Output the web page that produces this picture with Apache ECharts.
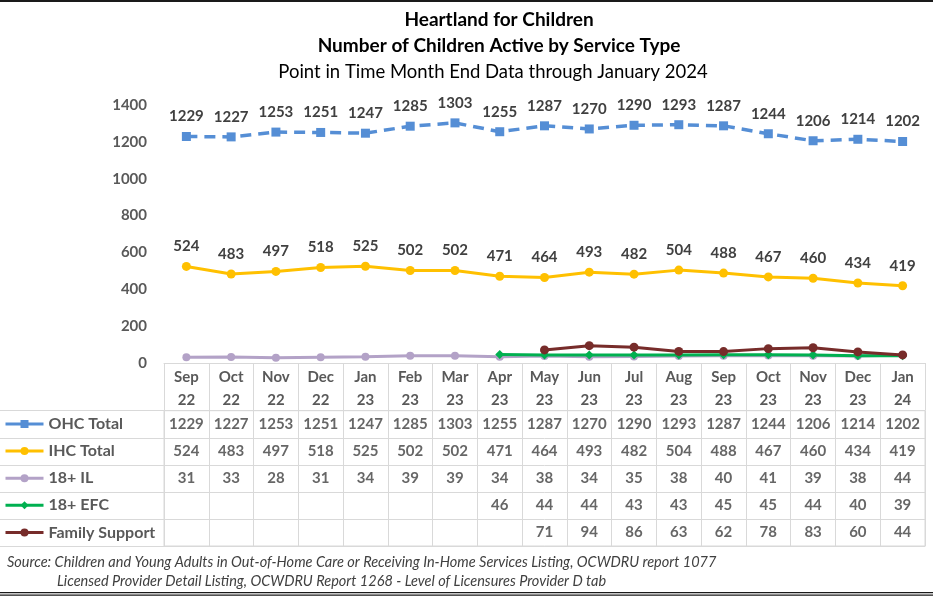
<!DOCTYPE html>
<html><head><meta charset="utf-8">
<script src="https://cdn.jsdelivr.net/npm/echarts@6/dist/echarts.min.js"></script>
<style>html,body{margin:0;padding:0;background:#fff}#c{width:933px;height:599px}</style>
</head><body><div id="c"></div>
<script>
const categories = ['Sep 22','Oct 22','Nov 22','Dec 22','Jan 23','Feb 23','Mar 23','Apr 23','May 23','Jun 23','Jul 23','Aug 23','Sep 23','Oct 23','Nov 23','Dec 23','Jan 24'];
const seriesNames = ['OHC Total','IHC Total','18+ IL','18+ EFC','Family Support'];
const ohcTotal = [1229,1227,1253,1251,1247,1285,1303,1255,1287,1270,1290,1293,1287,1244,1206,1214,1202];
const ihcTotal = [524,483,497,518,525,502,502,471,464,493,482,504,488,467,460,434,419];
const il18 = [31,33,28,31,34,39,39,34,38,34,35,38,40,41,39,38,44];
const efc18 = [null,null,null,null,null,null,null,46,44,44,43,43,45,45,44,40,39];
const familySupport = [null,null,null,null,null,null,null,null,71,94,86,63,62,78,83,60,44];
const yTicks = {min:0, max:1400, interval:200};
const titleLines = ['Heartland for Children','Number of Children Active by Service Type','Point in Time Month End Data through January 2024'];
const sourceLines = ['Source: Children and Young Adults in Out-of-Home Care or Receiving In-Home Services Listing, OCWDRU report 1077','Licensed Provider Detail Listing, OCWDRU Report 1268 - Level of Licensures Provider D tab'];

const FONT = 'Lato';
const allData = [ohcTotal, ihcTotal, il18, efc18, familySupport];
const colors = ['#558ED5','#FFC000','#B3A2C7','#00B050','#772C2A'];
const symbols = ['rect','circle','circle','diamond','circle'];
const symSizes = [9,9,8,9,9];

const tableData = [];
allData.forEach((arr, r) => arr.forEach((v, i) => { if (v !== null) tableData.push([i, r, v]); }));

const chart = echarts.init(document.getElementById('c'), null, {renderer:'canvas'});
const grid = '#D9D9D9';
const lineSeries = seriesNames.map((name, k) => ({
  name, type:'line', xAxisIndex:0, yAxisIndex:0,
  data: allData[k],
  symbol: symbols[k], symbolSize: symSizes[k], showSymbol:true,
  itemStyle:{color:colors[k]},
  lineStyle:{color:colors[k], width: k===0 ? 3.5 : 3, type: k===0 ? [11,7] : 'solid'},
  label: (k < 2) ? {show:true, position:'top', distance:8, fontFamily:FONT, fontWeight:'bold', fontSize:15, color:'#404040'} : {show:false},
  z: 2 + k,
  animation:false
}));

chart.setOption({
  animation:false,
  textStyle:{fontFamily:FONT},
  grid:[
    {left:164, right:8, top:105, bottom:236},
    {left:164, right:8, top:410.7, bottom:53, show:true, borderColor:grid, borderWidth:1}
  ],
  xAxis:[
    {type:'category', gridIndex:0, data:categories, boundaryGap:true,
     axisLine:{show:true, lineStyle:{color:grid, width:1}},
     axisTick:{show:true, interval:0, length:47.7, lineStyle:{color:grid}},
     axisLabel:{interval:0, margin:3, fontSize:15, fontWeight:'bold', color:'#595959', lineHeight:22.5,
       formatter:v=>v.replace(' ','\n')}},
    {type:'category', gridIndex:1, data:categories, boundaryGap:true,
     axisLine:{show:true, lineStyle:{color:grid}},
     axisTick:{show:false}, axisLabel:{show:false},
     splitLine:{show:true, interval:0, lineStyle:{color:grid, width:1}}}
  ],
  yAxis:[
    {type:'value', gridIndex:0, min:yTicks.min, max:yTicks.max, interval:yTicks.interval,
     axisLine:{show:false}, axisTick:{show:false}, splitLine:{show:false},
     axisLabel:{margin:17, fontSize:15, fontWeight:'bold', color:'#595959', formatter:v=>String(v)}},
    {type:'category', gridIndex:1, data:seriesNames, inverse:true, boundaryGap:true,
     axisLine:{show:true, lineStyle:{color:grid}},
     axisTick:{show:true, interval:0, length:164, lineStyle:{color:grid}},
     axisLabel:{show:false},
     splitLine:{show:true, interval:0, lineStyle:{color:grid, width:1}}}
  ],
  legend:{
    orient:'vertical', left:4, top:415, padding:0,
    itemWidth:38, itemHeight:10, itemGap:9.1,
    textStyle:{fontFamily:FONT, fontSize:16, fontWeight:'bold', color:'#595959', lineHeight:18, height:18},
    data: seriesNames.map((n,k)=>({name:n, icon:'', itemStyle:{color:colors[k]}, lineStyle:{color:colors[k], type:'solid', width:3}})),
    selectedMode:false
  },
  series: lineSeries.concat([{
    name:'table', type:'scatter', xAxisIndex:1, yAxisIndex:1, data:tableData,
    symbolSize:0, silent:true,
    label:{show:true, position:'inside', formatter:p=>String(p.value[2]), fontFamily:FONT, fontSize:15, fontWeight:'bold', color:'#404040'}
  }]),
  graphic:[
    {type:'rect', shape:{x:0,y:0,width:933,height:2}, style:{fill:'#1a1a1a'}, silent:true},
    {type:'rect', shape:{x:0,y:592,width:933,height:1.2}, style:{fill:'#1a1a1a'}, silent:true},
    {type:'rect', shape:{x:0,y:594.5,width:933,height:1.2}, style:{fill:'#1a1a1a'}, silent:true},
    {type:'text', x:499, y:20, style:{text:titleLines[0], fontFamily:FONT, fontSize:19, fontWeight:'bold', fill:'#000', align:'center', verticalAlign:'middle'}},
    {type:'text', x:499, y:46, style:{text:titleLines[1], fontFamily:FONT, fontSize:19, fontWeight:'bold', fill:'#000', align:'center', verticalAlign:'middle'}},
    {type:'text', x:493, y:72, style:{text:titleLines[2], fontFamily:FONT, fontSize:18.5, fill:'#000', align:'center', verticalAlign:'middle'}},
    {type:'text', x:7, y:562, style:{text:sourceLines[0], fontFamily:FONT, fontSize:14.5, fontStyle:'italic', fill:'#404040', verticalAlign:'middle'}},
    {type:'text', x:57, y:581, style:{text:sourceLines[1], fontFamily:FONT, fontSize:14.5, fontStyle:'italic', fill:'#404040', verticalAlign:'middle'}}
  ]
});
</script></body></html>
